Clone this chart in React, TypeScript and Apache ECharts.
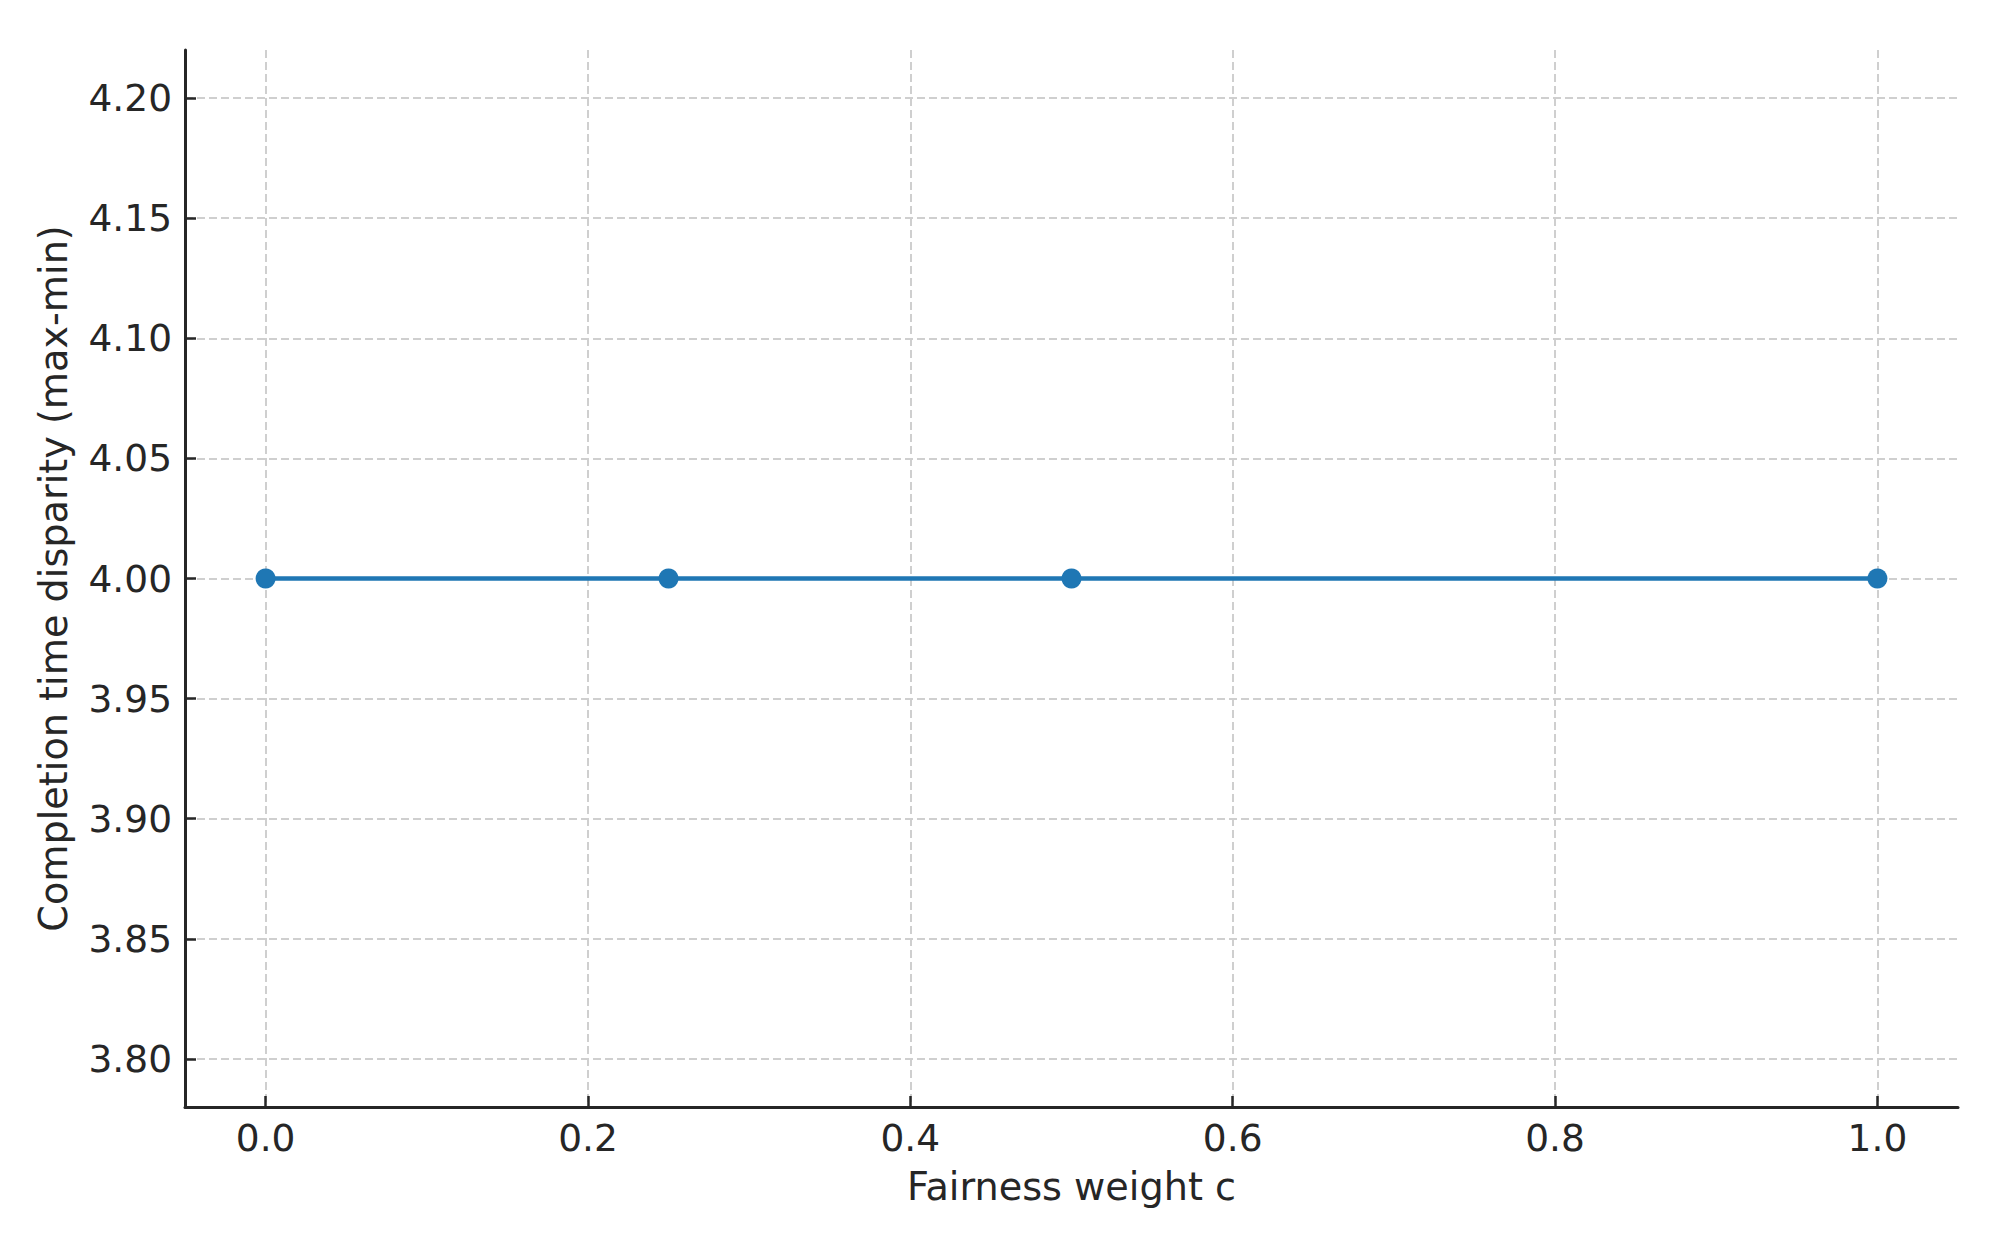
import React, { useEffect, useRef } from "react";
import * as echarts from "echarts";

const xValues = [0.0, 0.25, 0.5, 1.0];
const yValues = [4.0, 4.0, 4.0, 4.0];
const xTicks = [0.0, 0.2, 0.4, 0.6, 0.8, 1.0];
const yTicks = [3.8, 3.85, 3.9, 3.95, 4.0, 4.05, 4.1, 4.15, 4.2];
const xLabel = "Fairness weight c";
const yLabel = "Completion time disparity (max-min)";

export default function App() {
  const ref = useRef<HTMLDivElement>(null);
  useEffect(() => {
    if (!ref.current) return;
    const chart = echarts.init(ref.current, undefined, { renderer: "svg" });
    const font = "DejaVu Sans";
    const textColor = "#262626";
    const gridLine = { show: true, lineStyle: { color: "#cfcfcf", width: 2, type: [8, 4] as any } };
    chart.setOption({
      animation: false,
      backgroundColor: "#ffffff",
      grid: { left: 185, right: 42, top: 50, bottom: 126, containLabel: false },
      xAxis: {
        type: "value",
        min: -0.05,
        max: 1.05,
        name: xLabel,
        nameLocation: "middle",
        nameGap: 61,
        nameTextStyle: { fontFamily: font, fontSize: 38.2, color: textColor },
        axisLine: { show: true, onZero: false, lineStyle: { color: "#262626", width: 3 } },
        axisTick: { show: true, inside: true, length: 11, lineStyle: { color: "#262626", width: 2.5 }, customValues: xTicks },
        axisLabel: {
          show: true,
          customValues: xTicks,
          margin: 12,
          fontFamily: font,
          fontSize: 37.5,
          color: textColor,
          formatter: (v: number) => v.toFixed(1),
        },
        splitLine: gridLine,
      },
      yAxis: {
        type: "value",
        min: 3.78,
        max: 4.22,
        name: yLabel,
        nameLocation: "middle",
        nameGap: 112,
        nameTextStyle: { fontFamily: font, fontSize: 38.2, color: textColor },
        axisLine: { show: true, onZero: false, lineStyle: { color: "#262626", width: 3 } },
        axisTick: { show: true, inside: true, length: 11, lineStyle: { color: "#262626", width: 2.5 }, customValues: yTicks },
        axisLabel: {
          show: true,
          customValues: yTicks,
          margin: 13,
          fontFamily: font,
          fontSize: 37.5,
          color: textColor,
          formatter: (v: number) => v.toFixed(2),
        },
        splitLine: gridLine,
      },
      series: [
        {
          type: "line",
          data: xValues.map((x, i) => [x, yValues[i]]),
          symbol: "circle",
          symbolSize: 20,
          itemStyle: { color: "#1f77b4" },
          lineStyle: { color: "#1f77b4", width: 4.5 },
        },
      ],
    });
    return () => chart.dispose();
  }, []);
  return (
    <div
      ref={ref}
      style={{ position: "fixed", left: 0, top: 0, width: 2000, height: 1233, background: "#fff" }}
    />
  );
}
